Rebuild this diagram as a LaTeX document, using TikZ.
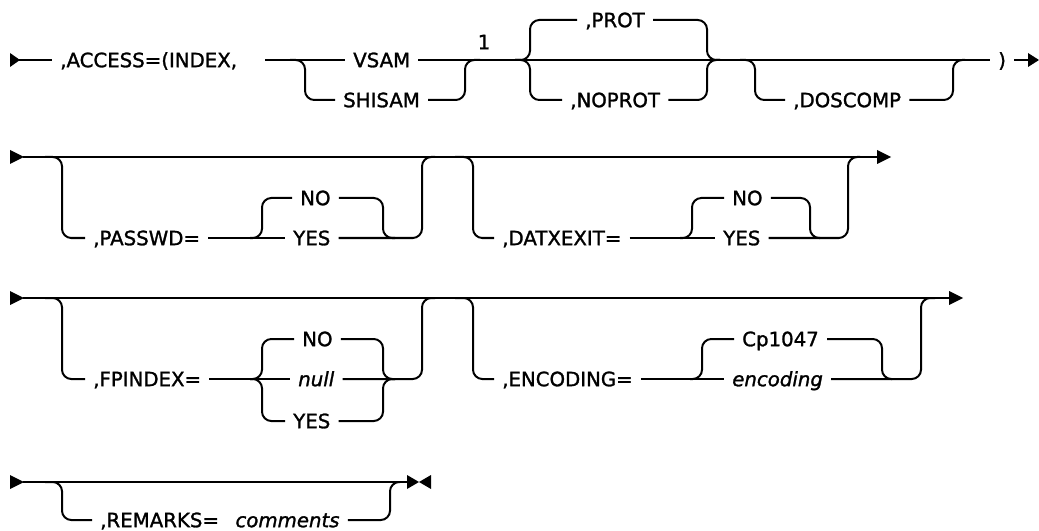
\documentclass[tikz,border=0pt]{standalone}
\usepackage{fontspec}
\setmainfont[FakeBold=1.4, ItalicFeatures={FakeBold=1.4}]{DejaVu Sans}
\usetikzlibrary{positioning}

\begin{document}
\begin{tikzpicture}[
        x=0.75pt, y=-0.75pt, % Coordenadas en pixeles, y hacia abajo
        rail/.style={line width=1.5pt, rounded corners=7pt}, % Estilo para las vias
        kw/.style={anchor=west, inner xsep=6pt, inner ysep=0pt,
        text height=10.8pt, text depth=0pt,
        font=\fontsize{14.8}{17}\selectfont}, % Palabras clave
        var/.style={kw, font=\fontsize{14.8}{17}\selectfont\itshape}, % Variables
        tip/.style={fill=black} % Flechas de inicio y fin
    ]
        \useasboundingbox (0,0) rectangle (1039,531);

        % --- Fila 1: ACCESS ---
        \fill[tip] (10,53) -- (20,60) -- (10,67) -- cycle;
        \node[kw] (access) at (52,60) {,ACCESS=(INDEX,};
        \draw[rail] (19,60) -- (access.west);
        \node[kw] (vsam) at (345,60) {VSAM};
        \node[kw] (shisam) at (335,100) {SHISAM};
        \node[kw] (cierre) at (990,60) {)};
        \draw[rail] (265,60) -- (vsam.west);
        \draw[rail] (290,60) -| (305,100) -- (shisam.west);
        \draw[rail] (vsam.east) -- (cierre.west); % Via principal
        \draw[rail] (shisam.east) -| (465,60) -- (480,60);
        \node[kw, anchor=center] (nota) at (484,42) {1};

        % Opcion PROT / NOPROT
        \node[kw] (prot) at (577,20) {,PROT};
        \node[kw] (noprot) at (562,100) {,NOPROT};
        \draw[rail] (515,60) -| (530,20) -- (prot.west);
        \draw[rail] (515,60) -| (530,100) -- (noprot.west);
        \draw[rail] (prot.east) -| (707,60) -- (720,60);
        \draw[rail] (noprot.east) -| (707,60) -- (720,60);

        % Opcion DOSCOMP
        \node[kw] (doscomp) at (785,100) {,DOSCOMP};
        \draw[rail] (740,60) -| (755,100) -- (doscomp.west);
        \draw[rail] (doscomp.east) -| (953,60) -- (965,60);
        \draw[rail] (cierre.east) -- (1030,60);
        \fill[tip] (1028,53) -- (1039,60) -- (1028,67) -- cycle;

        % --- Fila 2: PASSWD y DATXEXIT ---
        \fill[tip] (10,150) -- (24,157) -- (10,164) -- cycle;
        \draw[rail] (23,157) -- (878,157);
        \fill[tip] (877,150) -- (891,157) -- (877,164) -- cycle;

        \node[kw] (passwd) at (85,238) {,PASSWD=};
        \node[kw] (pwno) at (292,198) {NO};
        \node[kw] (pwyes) at (285,238) {YES};
        \draw[rail] (45,157) -| (62,238) -- (passwd.west);
        \draw[rail] (passwd.east) -- (pwyes.west);
        \draw[rail] (250,238) -| (262,198) -- (pwno.west);
        \draw[rail] (pwno.east) -| (383,238) -- (395,238);
        \draw[rail] (pwyes.east) -| (422,157) -- (435,157);

        \node[kw] (datx) at (494,238) {,DATXEXIT=};
        \node[kw] (dxno) at (724,198) {NO};
        \node[kw] (dxyes) at (715,238) {YES};
        \draw[rail] (455,157) -| (473,238) -- (datx.west);
        \draw[rail] (datx.east) -- (dxyes.west);
        \draw[rail] (680,238) -| (692,198) -- (dxno.west);
        \draw[rail] (dxno.east) -| (810,238) -- (820,238);
        \draw[rail] (dxyes.east) -| (848,157) -- (860,157);

        % --- Fila 3: FPINDEX y ENCODING ---
        \fill[tip] (10,291) -- (24,298) -- (10,305) -- cycle;
        \draw[rail] (23,298) -- (950,298);
        \fill[tip] (949,291) -- (963,298) -- (949,305) -- cycle;

        \node[kw] (fpidx) at (85,379) {,FPINDEX=};
        \node[kw] (fpno) at (294,339) {NO};
        \node[var] (fpnull) at (290,379) {null};
        \node[kw] (fpyes) at (285,421) {YES};
        \draw[rail] (45,298) -| (62,379) -- (fpidx.west);
        \draw[rail] (fpidx.east) -- (fpnull.west);
        \draw[rail] (250,379) -| (262,339) -- (fpno.west);
        \draw[rail] (250,379) -| (262,421) -- (fpyes.west);
        \draw[rail] (fpno.east) -| (383,379) -- (395,379);
        \draw[rail] (fpyes.east) -| (383,379) -- (395,379);
        \draw[rail] (fpnull.east) -| (422,298) -- (435,298);

        \node[kw] (enc) at (494,379) {,ENCODING=};
        \node[kw] (cp) at (734,339) {Cp1047};
        \node[var] (encv) at (724,379) {encoding};
        \draw[rail] (455,298) -| (473,379) -- (enc.west);
        \draw[rail] (enc.east) -- (encv.west);
        \draw[rail] (690,379) -| (702,339) -- (cp.west);
        \draw[rail] (cp.east) -| (882,379) -- (892,379);
        \draw[rail] (encv.east) -| (921,298) -- (935,298);

        % --- Fila 4: REMARKS ---
        \fill[tip] (10,475) -- (24,482) -- (10,489) -- cycle;
        \draw[rail] (23,482) -- (410,482);
        \fill[tip] (407,475) -- (419,482) -- (407,489) -- cycle;
        \fill[tip] (431,475) -- (419,482) -- (431,489) -- cycle;

        \node[kw] (remarks) at (92,520) {,REMARKS=};
        \node[var, right=0pt of remarks] (comments) {comments};
        \draw[rail] (45,482) -| (62,520) -- (remarks.west);
        \draw[rail] (comments.east) -| (390,482) -- (400,482);

    \end{tikzpicture}
\end{document}
